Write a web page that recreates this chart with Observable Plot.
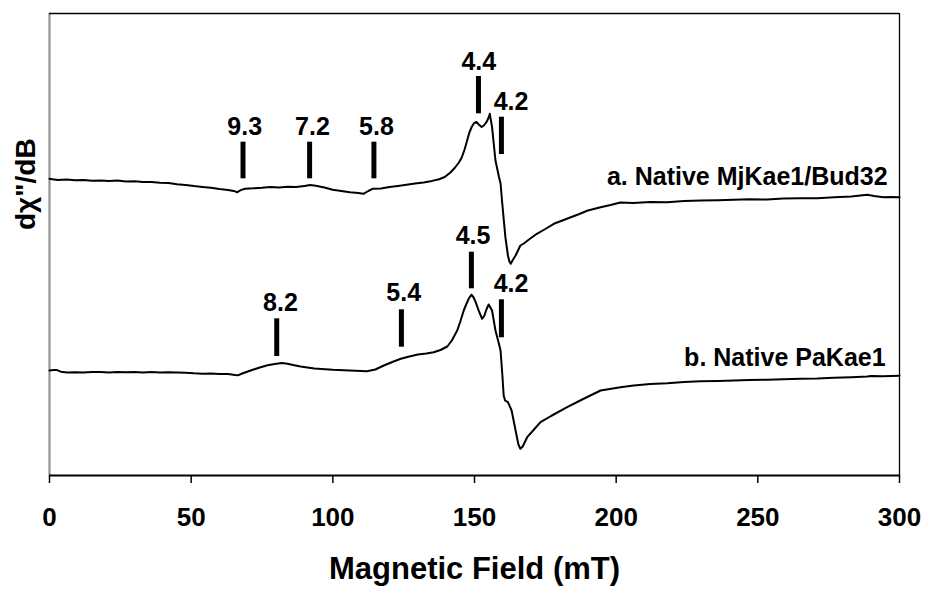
<!DOCTYPE html>
<html>
<head>
<meta charset="utf-8">
<script src="https://cdn.jsdelivr.net/npm/d3@7"></script>
<script src="https://cdn.jsdelivr.net/npm/@observablehq/plot@0.6"></script>
<style>
  html, body { margin: 0; padding: 0; background: white; }
</style>
</head>
<body>
<div id="chart"></div>
<script>
// Magnetic field (mT) and signal (arbitrary units)
const fieldA = [0, 1, 3, 6, 9, 12, 15, 18, 21, 24, 27, 30, 33, 36, 39, 42, 45, 48, 51, 54, 57, 60, 63, 65, 66.3, 67.5, 69, 72, 75, 78, 81, 84, 87, 90, 92, 94, 97, 100, 103, 106, 109, 110.8, 112.5, 114, 117, 120, 123, 126, 129, 132, 135, 137.5, 139.5, 141.5, 143, 144.5, 145.5, 146.5, 147.4, 148.2, 149, 149.8, 150.7, 151.5, 152.5, 153.3, 154.2, 155, 155.4, 156.2, 157.4, 158.6, 159.2, 159.8, 160.9, 161.8, 162.3, 162.8, 163.4, 164.5, 166.2, 167.4, 169, 172, 175, 178, 181, 184, 187, 190, 194.5, 198, 201.5, 206, 212, 218, 224, 230, 236, 241.4, 247, 253.3, 259, 265, 271, 277, 283, 288.6, 291, 294.4, 297, 300];
const signalA = [296.7, 296.2, 295.5, 296, 295.2, 295.6, 294.8, 295, 294.4, 294.9, 294, 294.3, 293.5, 293.6, 292.8, 292.4, 291.3, 290.6, 289.4, 288.6, 287.8, 286.5, 285.6, 284.6, 283.3, 285.4, 286.8, 287.2, 287.8, 288.6, 288.1, 288.7, 288.4, 289.6, 290.5, 289.8, 288, 285.7, 284.5, 283.3, 282.6, 281.7, 284.5, 286.7, 287, 288.5, 289.6, 290.8, 292, 293.1, 294.6, 296.3, 298.5, 303, 307.5, 313, 318, 326, 335, 343, 348.5, 352.3, 353.5, 351, 348.5, 350, 353.3, 358, 361.7, 348.3, 315, 299, 292, 272, 238.3, 220, 214, 211.7, 215, 220, 230, 232, 235.5, 241.7, 246.5, 251.7, 255, 258.3, 261.5, 265, 268.3, 270.5, 273, 272.4, 273.6, 273.3, 274.6, 275, 275.3, 275.7, 276.3, 276, 277.1, 277.3, 277.2, 278.3, 279, 280.7, 279.6, 278.3, 278.6, 278.3];

const fieldB = [0, 1.3, 2.7, 4, 6.2, 9, 12, 15, 18, 21, 24, 27, 30, 33, 36, 39, 42, 45, 48, 51, 54, 57, 60, 63, 65.5, 66.5, 68, 70, 72, 74.5, 77, 79.5, 82, 84, 86, 88.6, 91, 93.5, 96, 100, 104, 108, 112, 115, 118, 121, 124, 127, 130, 133, 135.6, 138, 140.4, 142, 143.9, 145, 146.2, 147.2, 148, 148.9, 149.7, 150.4, 151.6, 152.7, 153.5, 154.2, 155, 155.6, 156.2, 157.4, 158.6, 159.2, 159.8, 160.3, 160.8, 161.8, 163.1, 164.5, 165.5, 166.2, 167, 168.6, 171, 173.3, 177, 182.7, 188, 194.5, 201.5, 206.2, 212, 218, 224, 229.8, 236, 241.5, 247, 253.3, 259, 265, 271, 276.8, 283, 288.6, 290, 294, 300];
const signalB = [105, 105.5, 105.4, 103.8, 102.9, 103.3, 103, 103.6, 103.4, 103.1, 103.5, 103.2, 103.4, 103, 103.4, 103.1, 103.3, 103, 102.8, 102.2, 101.8, 101.9, 101.5, 101.4, 100.4, 100.2, 102, 104, 106, 108.3, 110.2, 111.4, 112.4, 111.8, 110.5, 109, 108, 107, 106.5, 105.7, 105.2, 104.7, 104.3, 106, 110, 113.5, 116.7, 119, 121, 122, 123.3, 125.5, 129, 135, 145, 154, 165, 172, 177, 180.8, 178, 173.3, 164, 156.7, 160, 166, 171, 168, 165, 145, 132, 125, 101.7, 80, 75, 73.3, 65, 45, 31, 26.7, 29, 38.3, 46, 53.3, 59.5, 68.3, 76, 85, 88.3, 90, 91.4, 92.3, 93.6, 94.3, 94.5, 95, 95.6, 95.7, 96.3, 96.7, 97, 97.7, 98.3, 99, 99.6, 99.3, 99.7];

// g-value markers
const markerLabels = ["9.3", "7.2", "5.8", "4.4", "4.2", "8.2", "5.4", "4.5", "4.2"];
const markerField  = [68.3, 91.8, 114.5, 151.4, 159.5, 80.2, 124.2, 148.9, 159.5];
const markerLow    = [296.7, 296.7, 296.7, 361.7, 321, 119, 128.3, 186.7, 137.7];
const markerHigh   = [333.3, 333.3, 333.3, 399, 358.3, 156.7, 165.7, 223.3, 175.7];
const labelField   = [68.9, 92.8, 115.4, 151.5, 162.9, 81.5, 125, 149.5, 162.9];
const labelSignal  = [348.3, 348.3, 348.3, 413.3, 373.3, 172.5, 182.5, 240, 191.3];

const seriesNames  = ["a. Native MjKae1/Bud32", "b. Native PaKae1"];
const seriesField  = [295.8, 295.1];
const seriesSignal = [298.3, 117.2];

const xTicks = [0, 50, 100, 150, 200, 250, 300];
const xTitle = "Magnetic Field (mT)";
const yTitle = "dχ\"/dB";

const lineA = fieldA.map((x, i) => ({x, y: signalA[i]}));
const lineB = fieldB.map((x, i) => ({x, y: signalB[i]}));
const markers = markerLabels.map((label, i) => ({
  label, field: markerField[i], low: markerLow[i], high: markerHigh[i],
  lx: labelField[i], ly: labelSignal[i]
}));
const series = seriesNames.map((name, i) => ({name, x: seriesField[i], y: seriesSignal[i]}));

const chart = Plot.plot({
  width: 927,
  height: 589,
  marginLeft: 49,
  marginRight: 28,
  marginTop: 13,
  marginBottom: 114,
  x: {domain: [0, 300]},
  y: {domain: [0, 462], axis: null},
  style: {fontFamily: "'Liberation Sans', Arial, sans-serif", fontWeight: "bold", background: "white", color: "black"},
  marks: [
    Plot.ruleX([0], {stroke: "#999", strokeWidth: 2.3}),
    Plot.ruleX([300], {stroke: "black", strokeWidth: 1.3}),
    Plot.ruleY([462], {stroke: "black", strokeWidth: 1.3}),
    Plot.ruleY([0], {stroke: "black", strokeWidth: 2}),
    Plot.axisX({ticks: xTicks, tickSize: 8, tickPadding: 24, fontSize: 26, label: null, strokeWidth: 1.5, tickFormat: d => String(d)}),
    Plot.line(lineA, {x: "x", y: "y", stroke: "black", strokeWidth: 2, strokeLinejoin: "round"}),
    Plot.line(lineB, {x: "x", y: "y", stroke: "black", strokeWidth: 2, strokeLinejoin: "round"}),
    Plot.ruleX(markers, {x: "field", y1: "low", y2: "high", stroke: "black", strokeWidth: 5}),
    Plot.text(markers, {x: "lx", y: "ly", text: "label", fontSize: 25, lineAnchor: "middle", fill: "black"}),
    Plot.text(series, {x: "x", y: "y", text: "name", textAnchor: "end", lineAnchor: "middle", fontSize: 25, fill: "black"}),
    Plot.text([xTitle], {text: d => d, frameAnchor: "bottom", dy: 94, lineAnchor: "middle", fontSize: 31, fill: "black"}),
    Plot.text([yTitle], {text: d => d, frameAnchor: "left", dx: -23, dy: -14.5, rotate: -90, lineAnchor: "middle", fontSize: 28, fill: "black"})
  ]
});
document.getElementById("chart").appendChild(chart);
</script>
</body>
</html>
